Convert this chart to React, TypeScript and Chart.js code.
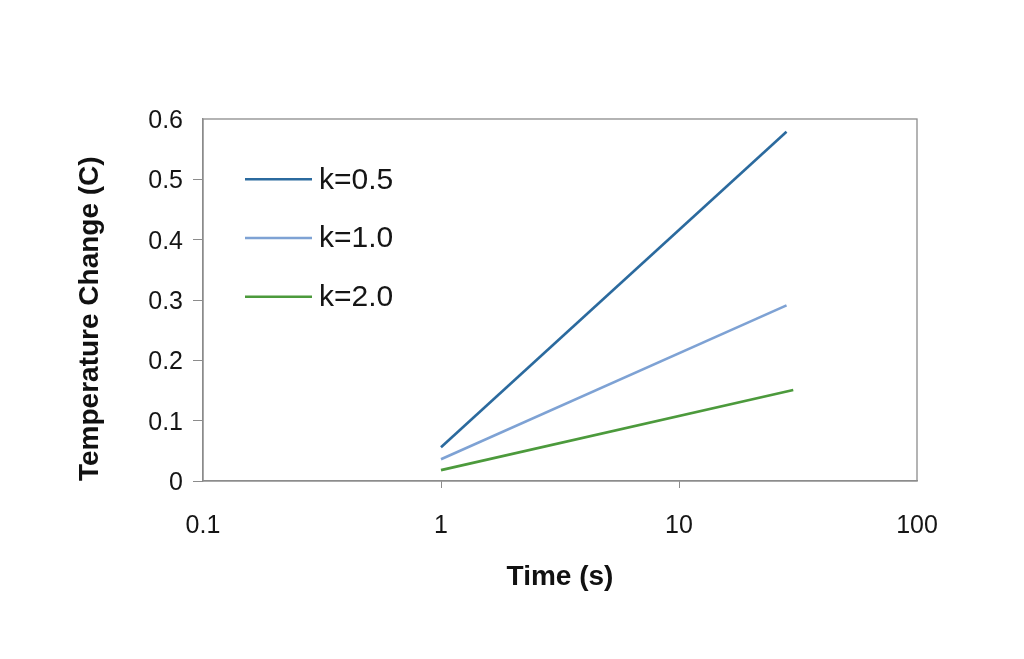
import React, { useEffect, useRef } from "react";
import { Chart, registerables } from "chart.js";

Chart.register(...registerables);

const seriesLabels = ["k=0.5", "k=1.0", "k=2.0"];
const seriesColors = ["#2B6A9E", "#7EA2D4", "#4C9A3C"];
const timeK05 = [1, 28.3];
const tempK05 = [0.056, 0.579];
const timeK10 = [1, 28.3];
const tempK10 = [0.036, 0.291];
const timeK20 = [1, 30.2];
const tempK20 = [0.018, 0.151];
const xTickValues = [0.1, 1, 10, 100];
const xTickLabels = ["0.1", "1", "10", "100"];
const yTickLabels = ["0", "0.1", "0.2", "0.3", "0.4", "0.5", "0.6"];

const FONT = "'Liberation Sans', Arial, sans-serif";
const AXIS_GRAY = "#8c8c8c";
const NONE = "rgba(0,0,0,0)";

const toPoints = (xs: number[], ys: number[]) => xs.map((x, i) => ({ x, y: ys[i] }));

const framePlugin = {
  id: "frame",
  beforeDatasetsDraw(chart: any) {
    const { ctx, chartArea } = chart;
    ctx.save();
    ctx.strokeStyle = AXIS_GRAY;
    ctx.lineWidth = 1.3;
    ctx.strokeRect(chartArea.left, chartArea.top, chartArea.right - chartArea.left, chartArea.bottom - chartArea.top);
    ctx.restore();
  },
};

const legendPlugin = {
  id: "insideLegend",
  afterDatasetsDraw(chart: any) {
    const { ctx, chartArea } = chart;
    ctx.save();
    chart.data.datasets.forEach((ds: any, i: number) => {
      const y = chartArea.top + 60.3 + i * 58.7;
      const x0 = chartArea.left + 42;
      ctx.strokeStyle = ds.borderColor;
      ctx.lineWidth = 2.5;
      ctx.beginPath();
      ctx.moveTo(x0, y);
      ctx.lineTo(x0 + 67, y);
      ctx.stroke();
      ctx.fillStyle = "#151515";
      ctx.font = `30px ${FONT}`;
      ctx.textBaseline = "middle";
      ctx.textAlign = "left";
      ctx.fillText(ds.label, x0 + 74, y + 1);
    });
    ctx.restore();
  },
};

export default function App() {
  const canvasRef = useRef<HTMLCanvasElement | null>(null);

  useEffect(() => {
    if (!canvasRef.current) return;
    const xs = [timeK05, timeK10, timeK20];
    const ys = [tempK05, tempK10, tempK20];
    const chart = new Chart(canvasRef.current, {
      type: "line",
      data: {
        datasets: seriesLabels.map((label, i) => ({
          label,
          data: toPoints(xs[i], ys[i]),
          borderColor: seriesColors[i],
          backgroundColor: seriesColors[i],
          borderWidth: 2.6,
          pointRadius: 0,
          tension: 0,
        })),
      },
      options: {
        animation: false,
        responsive: false,
        maintainAspectRatio: false,
        layout: { padding: { left: 0, top: 119, right: 107, bottom: 0 } },
        plugins: { legend: { display: false }, tooltip: { enabled: false } },
        scales: {
          x: {
            type: "logarithmic",
            min: 0.1,
            max: 100,
            afterBuildTicks: (scale: any) => {
              scale.ticks = xTickValues.map((v) => ({ value: v }));
            },
            afterFit: (scale: any) => {
              scale.height = 178;
            },
            ticks: {
              callback: (v: any) => {
                const idx = xTickValues.indexOf(Number(v));
                return idx >= 0 ? xTickLabels[idx] : "";
              },
              color: "#151515",
              font: { family: FONT, size: 25 },
              padding: 23,
              maxRotation: 0,
              autoSkip: false,
            },
            grid: {
              drawOnChartArea: false,
              drawTicks: true,
              tickLength: 7,
              color: (c: any) => (c.index === 0 || c.index === xTickValues.length - 1 ? NONE : AXIS_GRAY),
            },
            border: { display: true, color: AXIS_GRAY, width: 1.3 },
            title: {
              display: true,
              text: "Time (s)",
              color: "#111",
              font: { family: FONT, size: 28, weight: "bold" },
              padding: { top: 0, bottom: 65 },
            },
          },
          y: {
            type: "linear",
            min: 0,
            max: 0.6,
            afterBuildTicks: (scale: any) => {
              scale.ticks = yTickLabels.map((t) => ({ value: Number(t) }));
            },
            afterFit: (scale: any) => {
              scale.width = 203;
            },
            ticks: {
              callback: (v: any) => {
                const idx = yTickLabels.findIndex((t) => Math.abs(Number(t) - Number(v)) < 1e-9);
                return idx >= 0 ? yTickLabels[idx] : "";
              },
              color: "#151515",
              font: { family: FONT, size: 25 },
              padding: 10,
              labelOffset: 2,
            },
            grid: {
              drawOnChartArea: false,
              drawTicks: true,
              tickLength: 10,
              color: (c: any) => (c.index === yTickLabels.length - 1 ? NONE : AXIS_GRAY),
            },
            border: { display: true, color: AXIS_GRAY, width: 1.3 },
            title: {
              display: true,
              text: "Temperature Change (C)",
              color: "#111",
              align: "start",
              font: { family: FONT, size: 28, weight: "bold" },
              padding: { top: 73, bottom: 0 },
            },
          },
        },
      },
      plugins: [framePlugin, legendPlugin],
    } as any);
    return () => chart.destroy();
  }, []);

  return (
    <div style={{ position: "fixed", left: 0, top: 0, width: 1024, height: 659, background: "#fff" }}>
      <canvas ref={canvasRef} width={1024} height={659} style={{ width: 1024, height: 659, display: "block" }} />
    </div>
  );
}
